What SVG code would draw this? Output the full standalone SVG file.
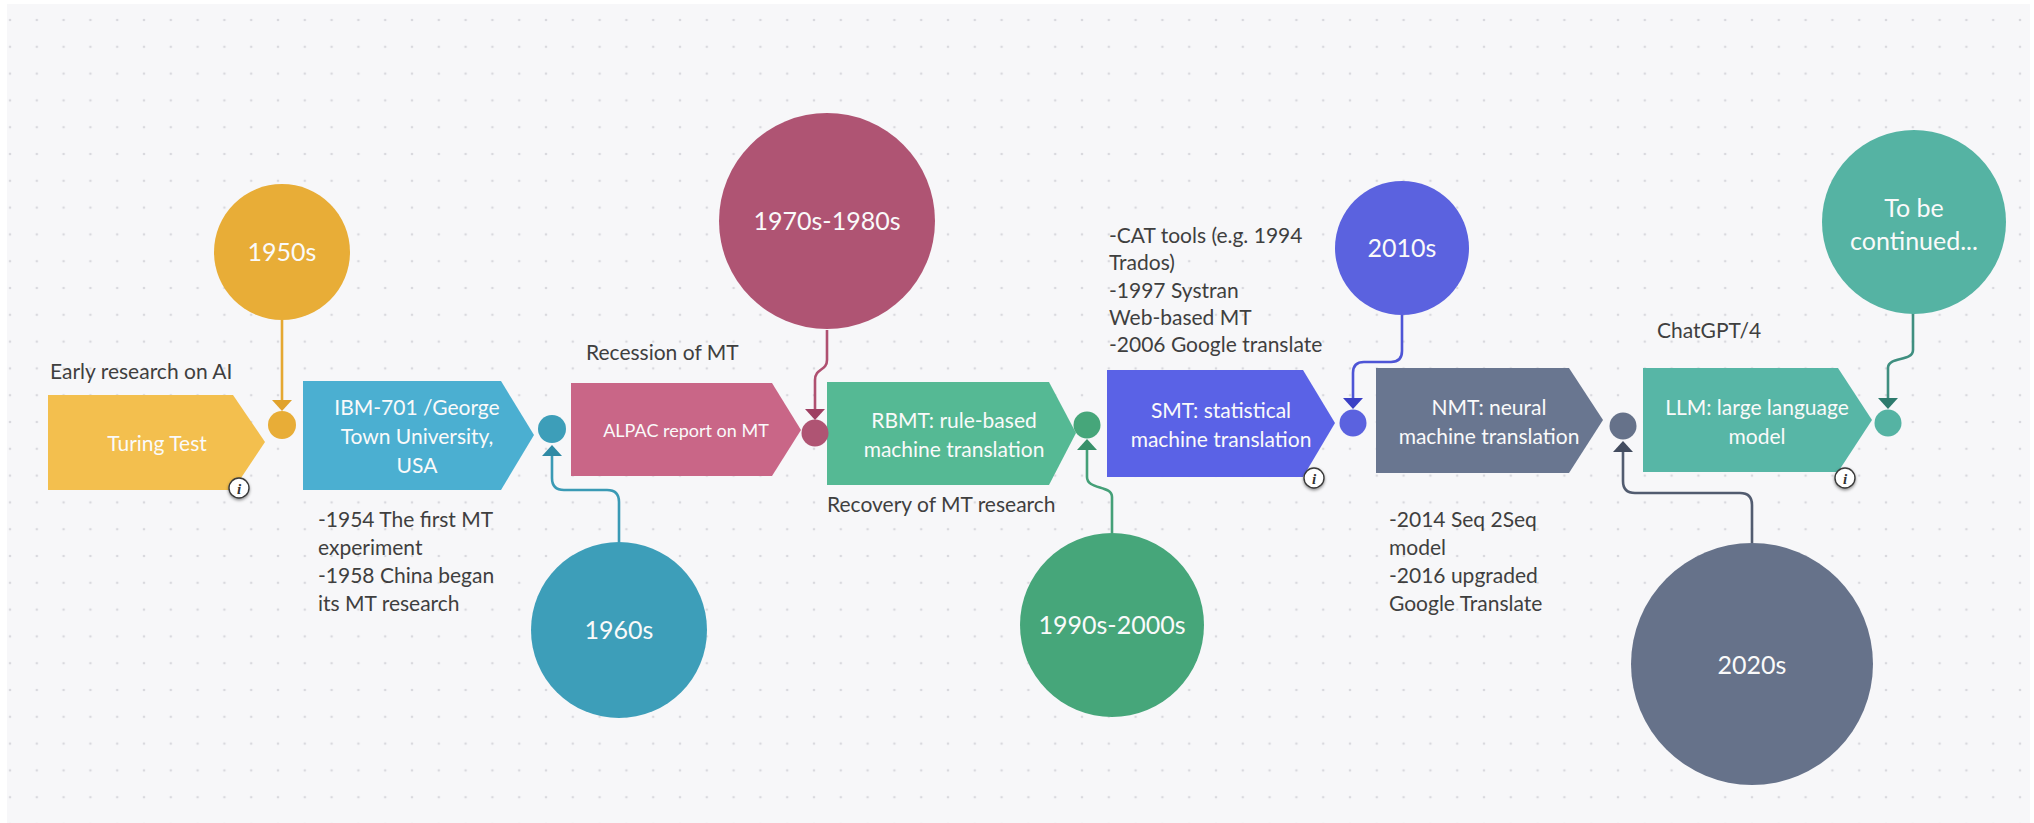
<svg xmlns="http://www.w3.org/2000/svg" width="2034" height="823" viewBox="0 0 2034 823">
  <defs>
    <pattern id="dots" x="10" y="20" width="26.8" height="26.8" patternUnits="userSpaceOnUse">
      <circle cx="0" cy="0" r="1.3" fill="#d9d9de"/>
      <circle cx="26.8" cy="0" r="1.3" fill="#d9d9de"/>
      <circle cx="0" cy="26.8" r="1.3" fill="#d9d9de"/>
      <circle cx="26.8" cy="26.8" r="1.3" fill="#d9d9de"/>
    </pattern>
    <filter id="shadow" x="-50%" y="-50%" width="200%" height="200%">
      <feDropShadow dx="0" dy="1.5" stdDeviation="1.5" flood-color="#000" flood-opacity="0.45"/>
    </filter>
    <marker id="ah-yellow" viewBox="0 0 11 20" refX="0" refY="10" markerWidth="11" markerHeight="20" markerUnits="userSpaceOnUse" orient="auto"><path d="M0,0 L11,10 L0,20 z" fill="#e0a22c"/></marker>
    <marker id="ah-blue" viewBox="0 0 11 20" refX="0" refY="10" markerWidth="11" markerHeight="20" markerUnits="userSpaceOnUse" orient="auto"><path d="M0,0 L11,10 L0,20 z" fill="#2f8aa5"/></marker>
    <marker id="ah-pink" viewBox="0 0 11 20" refX="0" refY="10" markerWidth="11" markerHeight="20" markerUnits="userSpaceOnUse" orient="auto"><path d="M0,0 L11,10 L0,20 z" fill="#9e3f62"/></marker>
    <marker id="ah-green" viewBox="0 0 11 20" refX="0" refY="10" markerWidth="11" markerHeight="20" markerUnits="userSpaceOnUse" orient="auto"><path d="M0,0 L11,10 L0,20 z" fill="#37906a"/></marker>
    <marker id="ah-violet" viewBox="0 0 11 20" refX="0" refY="10" markerWidth="11" markerHeight="20" markerUnits="userSpaceOnUse" orient="auto"><path d="M0,0 L11,10 L0,20 z" fill="#3a3fc5"/></marker>
    <marker id="ah-slate" viewBox="0 0 11 20" refX="0" refY="10" markerWidth="11" markerHeight="20" markerUnits="userSpaceOnUse" orient="auto"><path d="M0,0 L11,10 L0,20 z" fill="#434c5f"/></marker>
    <marker id="ah-teal" viewBox="0 0 11 20" refX="0" refY="10" markerWidth="11" markerHeight="20" markerUnits="userSpaceOnUse" orient="auto"><path d="M0,0 L11,10 L0,20 z" fill="#2d7a6d"/></marker>
  </defs>
  <style>
    text { font-family: Lato, "Liberation Sans", sans-serif; }
    .box-t { fill: #fafafa; font-size: 21px; text-anchor: middle; }
    .era-t { fill: #fafafa; font-size: 25px; text-anchor: middle; }
    .lbl { fill: #3f3f3f; font-size: 21px; }
    .conn { fill: none; stroke-width: 2.6; stroke-linejoin: round; }
    .info circle { fill: #ffffff; stroke: #3a3a3a; stroke-width: 1.4; filter: url(#shadow); }
    .info text { font-family: "Liberation Serif", serif; font-style: italic; font-weight: bold; font-size: 15px; fill: #333; text-anchor: middle; }
  </style>

  <!-- canvas -->
  <rect x="0" y="0" width="2034" height="823" fill="#ffffff"/>
  <rect x="7" y="4" width="2023" height="819" fill="#f7f7f9"/>
  <rect x="7" y="4" width="2023" height="819" fill="url(#dots)"/>

  <!-- connectors -->
  <g id="connectors">
    <path class="conn" stroke="#e5a832" marker-end="url(#ah-yellow)" d="M282,320 V400"/>
    <path class="conn" stroke="#3a9ab5" marker-end="url(#ah-blue)" d="M619,542 V502 Q619,490 607,490 H564 Q552,490 552,478 V456"/>
    <path class="conn" stroke="#af5070" marker-end="url(#ah-pink)" d="M827,330 V360 C827,371 815,368 815,380 V409"/>
    <path class="conn" stroke="#45a078" marker-end="url(#ah-green)" d="M1112,533 V497 C1112,485 1087,490 1087,477 V450"/>
    <path class="conn" stroke="#4e55d6" marker-end="url(#ah-violet)" d="M1402,315 V351 Q1402,362 1391,362 H1364 Q1353,362 1353,373 V398"/>
    <path class="conn" stroke="#525c70" marker-end="url(#ah-slate)" d="M1752,543 V505 Q1752,493 1740,493 H1635 Q1623,493 1623,481 V452"/>
    <path class="conn" stroke="#3f8f80" marker-end="url(#ah-teal)" d="M1913,313 V350 C1913,362 1888,356 1888,368 V398"/>
  </g>

  <!-- timeline steps -->
  <g id="step-turing">
    <polygon points="48,395 233,395 265,442 233,490 48,490" fill="#f3bf4e"/>
    <text class="box-t" x="157" y="451" font-size="23">Turing Test</text>
  </g>
  <g id="step-ibm">
    <polygon points="303,381 501,381 534,435 501,490 303,490" fill="#4bafd1"/>
    <text class="box-t" x="417" y="415">IBM-701 /George</text>
    <text class="box-t" x="417" y="444">Town University,</text>
    <text class="box-t" x="417" y="473">USA</text>
  </g>
  <g id="step-alpac">
    <polygon points="571,383 772,383 801,430 772,476 571,476" fill="#c96687"/>
    <text x="686" y="437" fill="#fafafa" font-size="18" text-anchor="middle">ALPAC report on MT</text>
  </g>
  <g id="step-rbmt">
    <polygon points="827,382 1049,382 1076,433 1049,485 827,485" fill="#55b994"/>
    <text class="box-t" x="954" y="428">RBMT: rule-based</text>
    <text class="box-t" x="954" y="457">machine translation</text>
  </g>
  <g id="step-smt">
    <polygon points="1107,370 1303,370 1335,423 1303,477 1107,477" fill="#5a62e6"/>
    <text class="box-t" x="1221" y="418">SMT: statistical</text>
    <text class="box-t" x="1221" y="447">machine translation</text>
  </g>
  <g id="step-nmt">
    <polygon points="1376,368 1569,368 1603,420 1569,473 1376,473" fill="#697690"/>
    <text class="box-t" x="1489" y="415">NMT: neural</text>
    <text class="box-t" x="1489" y="444">machine translation</text>
  </g>
  <g id="step-llm">
    <polygon points="1643,368 1838,368 1872,420 1838,472 1643,472" fill="#57b6a6"/>
    <text class="box-t" x="1757" y="415">LLM: large language</text>
    <text class="box-t" x="1757" y="444">model</text>
  </g>

  <!-- joints between steps -->
  <g id="joint-1"><circle cx="282" cy="425" r="14" fill="#e8ad37"/></g>
  <g id="joint-2"><circle cx="552" cy="429" r="14" fill="#3d9eb9"/></g>
  <g id="joint-3"><circle cx="815" cy="433" r="13.5" fill="#af5473"/></g>
  <g id="joint-4"><circle cx="1087" cy="425" r="13.5" fill="#46a67a"/></g>
  <g id="joint-5"><circle cx="1353" cy="423" r="13.5" fill="#5b62df"/></g>
  <g id="joint-6"><circle cx="1623" cy="426" r="13.5" fill="#66728a"/></g>
  <g id="joint-7"><circle cx="1888" cy="423" r="13.5" fill="#55b3a3"/></g>

  <!-- era bubbles -->
  <g id="era-1950s">
    <circle cx="282" cy="252" r="68" fill="#e8ad37"/>
    <text class="era-t" x="282" y="261">1950s</text>
  </g>
  <g id="era-1960s">
    <circle cx="619" cy="630" r="88" fill="#3d9eb9"/>
    <text class="era-t" x="619" y="639">1960s</text>
  </g>
  <g id="era-1970s-1980s">
    <circle cx="827" cy="221" r="108" fill="#af5473"/>
    <text class="era-t" x="827" y="230">1970s-1980s</text>
  </g>
  <g id="era-1990s-2000s">
    <circle cx="1112" cy="625" r="92" fill="#46a67a"/>
    <text class="era-t" x="1112" y="634">1990s-2000s</text>
  </g>
  <g id="era-2010s">
    <circle cx="1402" cy="248" r="67" fill="#5b62df"/>
    <text class="era-t" x="1402" y="257">2010s</text>
  </g>
  <g id="era-2020s">
    <circle cx="1752" cy="664" r="121" fill="#66728a"/>
    <text class="era-t" x="1752" y="674">2020s</text>
  </g>
  <g id="era-next">
    <circle cx="1914" cy="222" r="92" fill="#55b3a3"/>
    <text class="era-t" x="1914" y="217">To be</text>
    <text class="era-t" x="1914" y="250">continued...</text>
  </g>

  <!-- annotations -->
  <g id="note-early-ai">
    <text class="lbl" x="50" y="379">Early research on AI</text>
  </g>
  <g id="note-ibm">
    <text class="lbl" x="318" y="527">-1954 The first MT</text>
    <text class="lbl" x="318" y="555">experiment</text>
    <text class="lbl" x="318" y="583">-1958 China began</text>
    <text class="lbl" x="318" y="611">its MT research</text>
  </g>
  <g id="note-recession">
    <text class="lbl" x="586" y="360">Recession of MT</text>
  </g>
  <g id="note-recovery">
    <text class="lbl" x="827" y="512">Recovery of MT research</text>
  </g>
  <g id="note-smt">
    <text class="lbl" x="1109" y="243">-CAT tools (e.g. 1994</text>
    <text class="lbl" x="1109" y="270">Trados)</text>
    <text class="lbl" x="1109" y="298">-1997 Systran</text>
    <text class="lbl" x="1109" y="325">Web-based MT</text>
    <text class="lbl" x="1109" y="352">-2006 Google translate</text>
  </g>
  <g id="note-nmt">
    <text class="lbl" x="1389" y="527">-2014 Seq 2Seq</text>
    <text class="lbl" x="1389" y="555">model</text>
    <text class="lbl" x="1389" y="583">-2016 upgraded</text>
    <text class="lbl" x="1389" y="611">Google Translate</text>
  </g>
  <g id="note-llm">
    <text class="lbl" x="1657" y="338">ChatGPT/4</text>
  </g>

  <!-- info badges -->
  <g id="info-turing" class="info"><circle cx="239" cy="488" r="10"/><text x="239" y="494">i</text></g>
  <g id="info-smt" class="info"><circle cx="1314" cy="478" r="10"/><text x="1314" y="484">i</text></g>
  <g id="info-llm" class="info"><circle cx="1845" cy="478" r="10"/><text x="1845" y="484">i</text></g>
</svg>
